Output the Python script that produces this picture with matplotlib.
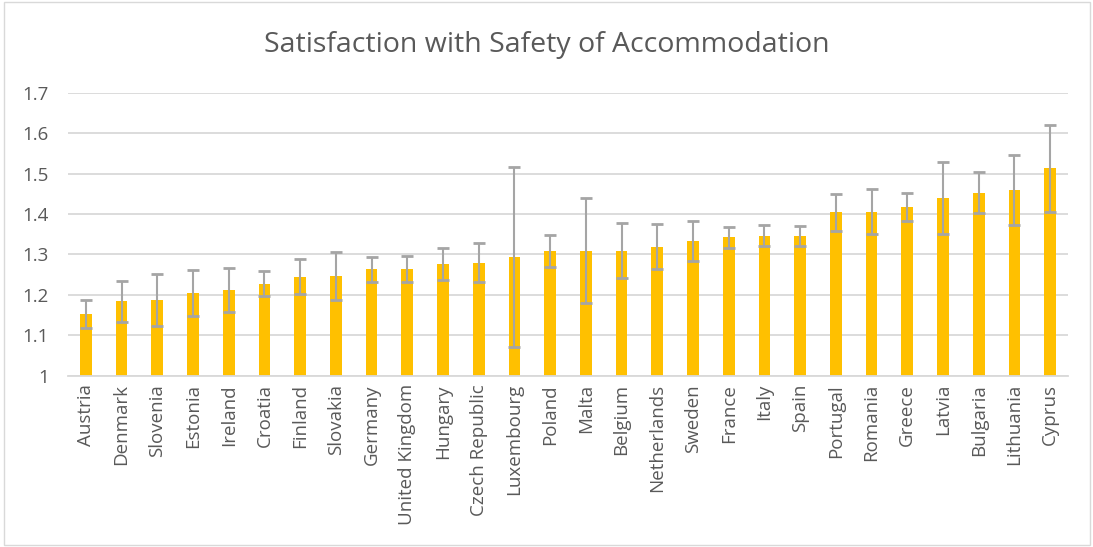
import matplotlib.pyplot as plt
import numpy as np
from matplotlib.patches import Rectangle

plt.rcParams['font.family'] = ['Open Sans', 'DejaVu Sans']

countries = ['Austria', 'Denmark', 'Slovenia', 'Estonia', 'Ireland', 'Croatia',
             'Finland', 'Slovakia', 'Germany', 'United Kingdom', 'Hungary',
             'Czech Republic', 'Luxembourg', 'Poland', 'Malta', 'Belgium',
             'Netherlands', 'Sweden', 'France', 'Italy', 'Spain', 'Portugal',
             'Romania', 'Greece', 'Latvia', 'Bulgaria', 'Lithuania', 'Cyprus']
means = [1.153, 1.184, 1.187, 1.205, 1.212, 1.228, 1.245, 1.247, 1.263,
         1.264, 1.277, 1.280, 1.294, 1.308, 1.309, 1.309, 1.319, 1.333,
         1.342, 1.346, 1.346, 1.404, 1.406, 1.417, 1.440, 1.453, 1.460, 1.513]
errors = [0.034, 0.051, 0.065, 0.057, 0.055, 0.030, 0.043, 0.059, 0.031,
          0.033, 0.040, 0.048, 0.223, 0.039, 0.130, 0.068, 0.055, 0.049,
          0.026, 0.026, 0.024, 0.045, 0.056, 0.034, 0.089, 0.051, 0.087, 0.108]

fig = plt.figure(figsize=(10.93, 5.47), dpi=100)
ax = fig.add_axes([68 / 1093, 1 - 375.7 / 547, 1000 / 1093, (375.7 - 92.7) / 547])

x = np.arange(len(countries))
ax.bar(x, np.array(means) - 1, bottom=1, width=0.33, color='#FFC000', zorder=2)
ax.errorbar(x, means, yerr=errors, fmt='none', ecolor='#A5A5A5', elinewidth=1.5,
            capsize=4, capthick=2, zorder=3)

ax.set_xlim(-0.5, len(countries) - 0.5)
ax.set_ylim(1, 1.7)
ax.set_yticks(np.arange(1, 1.71, 0.1))
ax.set_yticklabels(['1', '1.1', '1.2', '1.3', '1.4', '1.5', '1.6', '1.7'])
ax.set_xticks(x)
ax.set_xticklabels(countries, rotation=90)
ax.tick_params(axis='both', length=0, labelsize=13.5, labelcolor='#595959')
ax.tick_params(axis='y', pad=14)
ax.tick_params(axis='x', pad=6)

ax.grid(axis='y', color='#D9D9D9', linewidth=1.3, zorder=0)
for side in ['top', 'right', 'left']:
    ax.spines[side].set_visible(False)
ax.spines['bottom'].set_color('#D9D9D9')
ax.spines['bottom'].set_linewidth(1.3)

fig.text(0.5, 1 - 45 / 547, 'Satisfaction with Safety of Accommodation',
         ha='center', va='center', fontsize=20.5, color='#595959')

fig.patches.append(Rectangle((4 / 1093, 2 / 547), 1086 / 1093, 543 / 547,
                             transform=fig.transFigure, fill=False,
                             edgecolor='#D9D9D9', linewidth=1))

fig.savefig('out.png', dpi=100)
